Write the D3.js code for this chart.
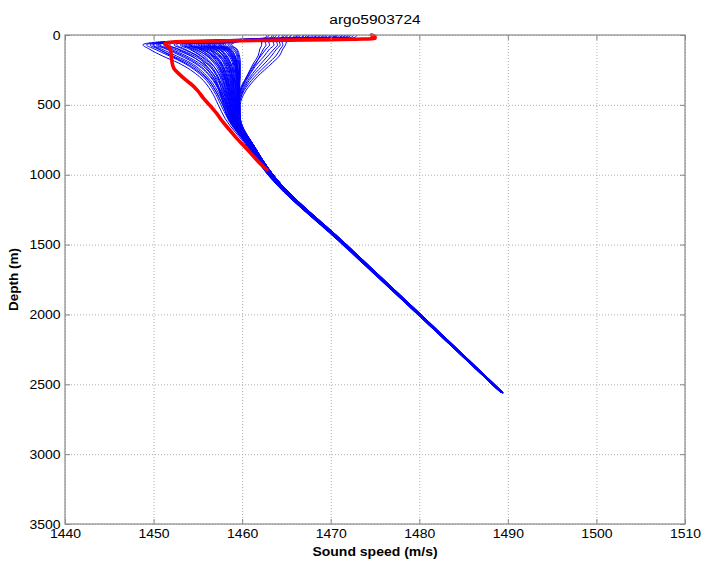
<!DOCTYPE html>
<html>
<head>
<meta charset="utf-8">
<script src="https://cdn.jsdelivr.net/npm/d3@7"></script>
<style>
  body { margin: 0; background: #fff; }
  text { font-family: "Liberation Sans", Arial, sans-serif; fill: #000; }
</style>
</head>
<body>
<svg id="chart" width="702" height="564"></svg>
<script>
// Depth levels (m) shared by every float profile
const depthLevels = [0, 20, 35, 50, 70, 100, 150, 200, 300, 400, 500, 600, 800, 1000, 1500, 2000, 2560];

// Sound speed (m/s) per profile at each depth level
const coldProfiles = [
  [1466.2,1466.0,1458.0,1450.5,1448.8,1449.5,1451.0,1452.8,1455.2,1456.5,1457.3,1458.1,1460.6,1462.9,1471.3,1479.8,1489.2],
  [1468.5,1468.1,1460.2,1451.2,1449.2,1450.1,1451.8,1453.4,1455.6,1456.8,1457.6,1458.4,1460.8,1463.0,1471.4,1479.9,1489.3],
  [1468.0,1467.7,1459.6,1451.8,1449.9,1450.6,1452.0,1453.6,1455.8,1457.0,1457.8,1458.5,1460.8,1463.0,1471.4,1479.9,1489.3],
  [1470.1,1469.8,1461.0,1452.0,1449.6,1450.5,1452.2,1453.9,1455.9,1457.0,1457.8,1458.6,1460.9,1463.1,1471.5,1479.9,1489.3],
  [1464.8,1464.5,1457.1,1451.3,1450.0,1450.9,1452.6,1454.2,1456.1,1457.2,1458.0,1458.7,1461.0,1463.1,1471.4,1479.8,1489.2],
  [1470.6,1470.2,1461.6,1452.4,1450.5,1451.6,1453.4,1454.8,1456.5,1457.5,1458.2,1458.8,1461.0,1463.1,1471.5,1479.9,1489.3],
  [1471.6,1471.2,1462.4,1452.6,1450.3,1451.4,1453.1,1454.6,1456.4,1457.4,1458.1,1458.8,1461.0,1463.2,1471.5,1480.0,1489.3],
  [1467.3,1467.0,1459.1,1452.2,1450.7,1451.9,1453.7,1455.1,1456.7,1457.6,1458.3,1458.9,1461.1,1463.2,1471.5,1479.9,1489.4],
  [1469.4,1469.0,1460.8,1452.9,1451.1,1452.3,1454.2,1455.5,1457.0,1457.8,1458.4,1459.0,1461.1,1463.2,1471.6,1480.0,1489.3],
  [1465.5,1465.2,1458.3,1452.7,1451.5,1452.8,1454.6,1455.9,1457.2,1458.0,1458.6,1459.1,1461.2,1463.3,1471.6,1480.0,1489.4]
];

const mainProfiles = [
  [1467.0,1466.7,1459.5,1453.0,1451.8,1452.7,1454.3,1455.4,1456.7,1457.4,1457.9,1458.4,1460.7,1462.9,1471.4,1479.9,1489.2],
  [1470.8,1470.4,1462.0,1454.1,1452.3,1453.3,1454.9,1455.7,1456.9,1457.5,1458.0,1458.5,1460.8,1463.0,1471.4,1479.8,1489.2],
  [1463.9,1463.6,1458.2,1453.7,1452.6,1453.5,1455.0,1456.0,1457.2,1457.7,1458.2,1458.6,1460.7,1463.0,1471.5,1479.9,1489.3],
  [1468.9,1468.6,1461.1,1454.5,1453.0,1454.0,1455.3,1456.2,1457.3,1457.9,1458.3,1458.7,1460.9,1463.1,1471.5,1480.0,1489.3],
  [1472.3,1471.9,1463.5,1455.2,1453.4,1454.4,1455.7,1456.5,1457.5,1458.0,1458.4,1458.8,1460.8,1463.0,1471.4,1479.9,1489.2],
  [1466.1,1465.8,1459.8,1454.9,1453.7,1454.8,1456.0,1456.8,1457.7,1458.1,1458.5,1458.8,1460.9,1463.1,1471.5,1479.9,1489.3],
  [1469.7,1469.3,1462.0,1455.6,1454.1,1455.2,1456.2,1457.0,1457.8,1458.2,1458.6,1458.9,1461.0,1463.1,1471.5,1480.0,1489.3],
  [1462.8,1462.6,1458.9,1455.4,1454.4,1455.5,1456.6,1457.2,1458.0,1458.4,1458.7,1459.0,1460.9,1463.0,1471.4,1479.9,1489.2],
  [1471.0,1470.6,1463.0,1456.3,1454.8,1455.8,1456.9,1457.5,1458.1,1458.5,1458.8,1459.1,1461.0,1463.2,1471.6,1480.0,1489.3],
  [1467.8,1467.5,1461.2,1456.0,1455.1,1456.1,1457.1,1457.7,1458.3,1458.6,1458.9,1459.1,1461.1,1463.1,1471.5,1479.9,1489.3],
  [1465.2,1464.9,1460.2,1456.4,1455.4,1456.5,1457.4,1457.9,1458.4,1458.7,1458.9,1459.2,1461.0,1463.2,1471.5,1480.0,1489.3],
  [1473.0,1472.6,1464.2,1457.0,1455.7,1456.7,1457.6,1458.1,1458.6,1458.8,1459.0,1459.2,1461.1,1463.2,1471.6,1480.0,1489.4],
  [1468.4,1468.1,1462.0,1456.9,1456.0,1457.0,1457.8,1458.3,1458.7,1458.9,1459.1,1459.3,1461.1,1463.2,1471.5,1479.9,1489.3],
  [1464.6,1464.4,1460.5,1457.1,1456.3,1457.3,1458.1,1458.5,1458.8,1459.0,1459.2,1459.3,1461.2,1463.3,1471.6,1480.0,1489.3],
  [1470.2,1469.9,1463.0,1457.6,1456.6,1457.5,1458.3,1458.7,1459.0,1459.1,1459.2,1459.4,1461.1,1463.2,1471.5,1480.0,1489.3],
  [1466.6,1466.3,1461.4,1457.5,1456.9,1457.8,1458.5,1458.9,1459.1,1459.2,1459.3,1459.4,1461.2,1463.3,1471.6,1480.0,1489.4],
  [1471.9,1471.5,1464.0,1458.1,1457.1,1458.0,1458.7,1459.0,1459.2,1459.3,1459.4,1459.5,1461.2,1463.3,1471.6,1480.1,1489.4],
  [1463.4,1463.2,1460.6,1457.9,1457.4,1458.3,1458.9,1459.2,1459.3,1459.4,1459.4,1459.5,1461.3,1463.4,1471.7,1480.1,1489.4],
  [1469.1,1468.8,1463.0,1458.4,1457.6,1458.5,1459.1,1459.3,1459.4,1459.4,1459.5,1459.6,1461.2,1463.3,1471.6,1480.0,1489.3],
  [1467.5,1467.2,1462.3,1458.5,1457.9,1458.7,1459.2,1459.4,1459.5,1459.5,1459.5,1459.6,1461.3,1463.4,1471.7,1480.1,1489.4],
  [1472.6,1472.2,1464.8,1459.0,1458.1,1458.9,1459.4,1459.5,1459.6,1459.6,1459.6,1459.7,1461.3,1463.4,1471.7,1480.1,1489.4],
  [1465.9,1465.7,1462.0,1458.9,1458.4,1459.1,1459.5,1459.6,1459.7,1459.6,1459.6,1459.7,1461.4,1463.5,1471.7,1480.1,1489.4],
  [1470.4,1470.1,1464.0,1459.3,1458.6,1459.3,1459.6,1459.7,1459.7,1459.7,1459.7,1459.8,1461.4,1463.4,1471.7,1480.1,1489.4],
  [1468.1,1467.8,1463.2,1459.4,1458.8,1459.4,1459.7,1459.8,1459.8,1459.7,1459.7,1459.8,1461.4,1463.5,1471.8,1480.2,1489.5],
  [1469.5,1469.2,1462.2,1456.6,1455.0,1456.3,1457.3,1458.0,1458.5,1458.8,1459.0,1459.2,1461.0,1463.2,1471.6,1480.0,1489.3],
  [1465.0,1464.8,1460.0,1456.2,1455.6,1456.9,1457.9,1458.4,1458.9,1459.1,1459.2,1459.4,1461.2,1463.3,1471.6,1480.0,1489.4],
  [1471.3,1470.9,1463.6,1457.8,1456.4,1457.4,1458.2,1458.6,1458.9,1459.0,1459.2,1459.3,1461.1,1463.2,1471.5,1480.0,1489.3],
  [1467.0,1466.7,1461.6,1458.0,1457.3,1458.2,1458.8,1459.1,1459.3,1459.3,1459.4,1459.5,1461.3,1463.4,1471.7,1480.1,1489.4],
  [1463.0,1462.8,1460.3,1458.3,1457.8,1458.6,1459.2,1459.4,1459.5,1459.5,1459.6,1459.7,1461.3,1463.4,1471.7,1480.1,1489.4],
  [1470.7,1470.3,1463.9,1458.7,1457.5,1458.4,1459.0,1459.3,1459.5,1459.6,1459.6,1459.7,1461.4,1463.5,1471.7,1480.1,1489.4],
  [1468.8,1468.5,1461.8,1455.8,1454.6,1455.6,1456.7,1457.4,1458.1,1458.5,1458.8,1459.0,1460.9,1463.1,1471.5,1479.9,1489.3],
  [1466.3,1466.0,1460.6,1455.5,1454.2,1455.1,1456.4,1457.2,1458.0,1458.4,1458.7,1459.0,1461.0,1463.1,1471.5,1480.0,1489.3],
  [1466.9,1466.6,1460.4,1454.6,1453.2,1454.6,1456.1,1457.0,1457.9,1458.3,1458.6,1458.9,1460.9,1463.0,1471.4,1479.9,1489.3],
  [1471.7,1471.3,1463.2,1455.9,1453.9,1455.3,1456.8,1457.6,1458.2,1458.6,1458.9,1459.1,1461.0,1463.1,1471.5,1480.0,1489.3],
  [1464.2,1464.0,1459.4,1455.1,1454.0,1455.9,1457.5,1458.2,1458.7,1458.9,1459.1,1459.3,1461.1,1463.2,1471.6,1480.0,1489.3],
  [1469.9,1469.6,1462.6,1456.8,1455.3,1456.8,1458.0,1458.7,1459.1,1459.3,1459.4,1459.5,1461.2,1463.3,1471.6,1480.0,1489.4],
  [1467.3,1467.0,1461.9,1457.4,1456.1,1457.6,1458.6,1459.1,1459.4,1459.5,1459.5,1459.6,1461.3,1463.4,1471.7,1480.1,1489.4],
  [1472.0,1471.6,1464.4,1458.6,1456.8,1458.1,1459.0,1459.4,1459.6,1459.6,1459.6,1459.7,1461.3,1463.4,1471.7,1480.1,1489.4],
  [1465.6,1465.3,1460.8,1456.7,1455.9,1456.4,1457.0,1457.6,1458.3,1458.7,1459.0,1459.2,1461.1,1463.2,1471.5,1480.0,1489.3],
  [1468.3,1468.0,1461.4,1455.3,1453.6,1454.2,1455.4,1456.4,1457.6,1458.2,1458.6,1458.9,1460.9,1463.0,1471.4,1479.9,1489.2],
  [1470.5,1470.1,1462.8,1457.3,1456.2,1457.1,1457.9,1458.4,1458.9,1459.1,1459.3,1459.4,1461.2,1463.3,1471.6,1480.0,1489.4],
  [1463.6,1463.4,1459.7,1457.0,1456.7,1457.9,1458.8,1459.2,1459.4,1459.5,1459.5,1459.6,1461.2,1463.3,1471.6,1480.1,1489.4]
];

const warmProfiles = [
  [1471.4,1471.0,1467.0,1465.0,1464.9,1464.6,1464.2,1463.4,1461.7,1460.4,1459.8,1459.8,1461.4,1463.5,1471.8,1480.2,1489.5],
  [1469.2,1468.9,1466.0,1464.5,1464.6,1464.3,1463.8,1463.0,1461.4,1460.2,1459.7,1459.7,1461.4,1463.4,1471.7,1480.1,1489.4],
  [1472.1,1471.7,1466.8,1464.2,1464.3,1463.9,1463.3,1462.6,1461.1,1460.1,1459.7,1459.7,1461.3,1463.4,1471.7,1480.1,1489.4],
  [1467.6,1467.3,1465.2,1463.9,1464.0,1463.6,1462.9,1462.2,1460.9,1460.0,1459.6,1459.6,1461.4,1463.5,1471.7,1480.1,1489.4],
  [1470.0,1469.7,1465.9,1463.5,1463.6,1463.1,1462.5,1461.8,1460.7,1459.9,1459.6,1459.7,1461.4,1463.5,1471.8,1480.2,1489.5],
  [1468.7,1468.4,1465.0,1463.0,1463.1,1462.7,1462.1,1461.5,1460.5,1459.8,1459.5,1459.6,1461.3,1463.4,1471.7,1480.1,1489.4],
  [1466.4,1466.2,1464.1,1462.6,1462.7,1462.4,1462.0,1461.6,1460.6,1459.8,1459.5,1459.6,1461.3,1463.4,1471.6,1480.0,1489.4],
  [1471.2,1470.9,1465.5,1462.2,1462.2,1462.0,1461.8,1461.3,1460.5,1459.7,1459.5,1459.6,1461.4,1463.5,1471.7,1480.1,1489.4]
];

// Highlighted profile (depth m, sound speed m/s)
const redDepths = [0, 10, 25, 33, 40, 48, 60, 100, 150, 200, 240, 280, 320, 360, 400, 450, 500, 560, 620, 680, 740, 800, 870, 930, 965];
const redSpeeds = [1474.6, 1475.0, 1475.0, 1470.0, 1460.0, 1452.5, 1451.3, 1451.9, 1452.0, 1452.1, 1452.3, 1452.9, 1453.6, 1454.4, 1455.0, 1455.6, 1456.3, 1457.1, 1457.8, 1458.6, 1459.4, 1460.3, 1461.3, 1462.2, 1462.8];

const speedTicks = [1440, 1450, 1460, 1470, 1480, 1490, 1500, 1510];
const depthTicks = [0, 500, 1000, 1500, 2000, 2500, 3000, 3500];
const chartTitle = "argo5903724";
const xLabel = "Sound speed (m/s)";
const yLabel = "Depth (m)";

const margin = { top: 35, right: 17, bottom: 40, left: 65 };
const width = 702, height = 564;
const innerW = width - margin.left - margin.right;
const innerH = height - margin.top - margin.bottom;

const svg = d3.select("#chart");
const g = svg.append("g").attr("transform", `translate(${margin.left},${margin.top})`);

const x = d3.scaleLinear().domain([1440, 1510]).range([0, innerW]);
const y = d3.scaleLinear().domain([0, 3500]).range([0, innerH]);

// dotted grid
const gridX = g.append("g").attr("transform", `translate(0,${innerH})`)
  .call(d3.axisBottom(x).tickValues(speedTicks).tickSize(-innerH).tickFormat(""));
const gridY = g.append("g")
  .call(d3.axisLeft(y).tickValues(depthTicks).tickSize(-innerW).tickFormat(""));
[gridX, gridY].forEach(a => {
  a.select(".domain").remove();
  a.selectAll("line").attr("stroke", "#9a9a9a").attr("stroke-width", 0.8).attr("stroke-dasharray", "1,2");
});

// profiles
const line = d3.line().x(d => x(d[0])).y(d => y(d[1])).curve(d3.curveMonotoneY);
const blue = g.append("g").attr("fill", "none").attr("stroke", "#0000ff").attr("stroke-width", 1.0);
[...coldProfiles, ...mainProfiles, ...warmProfiles].forEach(p => {
  blue.append("path").attr("d", line(p.map((v, i) => [v, depthLevels[i]])));
});
g.append("path")
  .attr("d", line(redSpeeds.map((v, i) => [v, redDepths[i]])))
  .attr("fill", "none").attr("stroke", "#ff0000").attr("stroke-width", 3.6)
  .attr("stroke-linejoin", "round").attr("stroke-linecap", "round");

// frame
g.append("rect").attr("width", innerW).attr("height", innerH)
  .attr("fill", "none").attr("stroke", "#8a8a8a").attr("stroke-width", 1.2);

const sx = 1.12;
const fmt = d3.format("d");
// axes with inward ticks
const xAxis = g.append("g").attr("transform", `translate(0,${innerH})`)
  .call(d3.axisBottom(x).tickValues(speedTicks).tickFormat(fmt).tickSize(-5).tickPadding(5));
const yAxis = g.append("g")
  .call(d3.axisLeft(y).tickValues(depthTicks).tickFormat(fmt).tickSize(-5).tickPadding(4));
const xTop = g.append("g").call(d3.axisTop(x).tickValues(speedTicks).tickSize(-5).tickFormat(""));
const yRight = g.append("g").attr("transform", `translate(${innerW},0)`)
  .call(d3.axisRight(y).tickValues(depthTicks).tickSize(-5).tickFormat(""));
[xAxis, yAxis, xTop, yRight].forEach(a => {
  a.select(".domain").remove();
  a.selectAll("line").attr("stroke", "#8a8a8a");
  a.selectAll("text").attr("font-size", 12.5).attr("font-family", "Liberation Sans, Arial, sans-serif")
    .attr("fill", "#000").attr("transform", `scale(${sx},1)`);
});

// title and axis labels
svg.append("text").attr("transform", `translate(${margin.left + innerW / 2},24) scale(1.15,1)`)
  .attr("text-anchor", "middle").attr("font-size", 13.5).text(chartTitle);
svg.append("text").attr("transform", `translate(${margin.left + innerW / 2},556) scale(${sx},1)`)
  .attr("text-anchor", "middle").attr("font-size", 12.5).attr("font-weight", "bold").text(xLabel);
svg.append("text").attr("transform", `translate(18,${margin.top + innerH / 2}) rotate(-90)`)
  .attr("text-anchor", "middle").attr("font-size", 13.5).attr("font-weight", "bold").text(yLabel);
</script>
</body>
</html>
